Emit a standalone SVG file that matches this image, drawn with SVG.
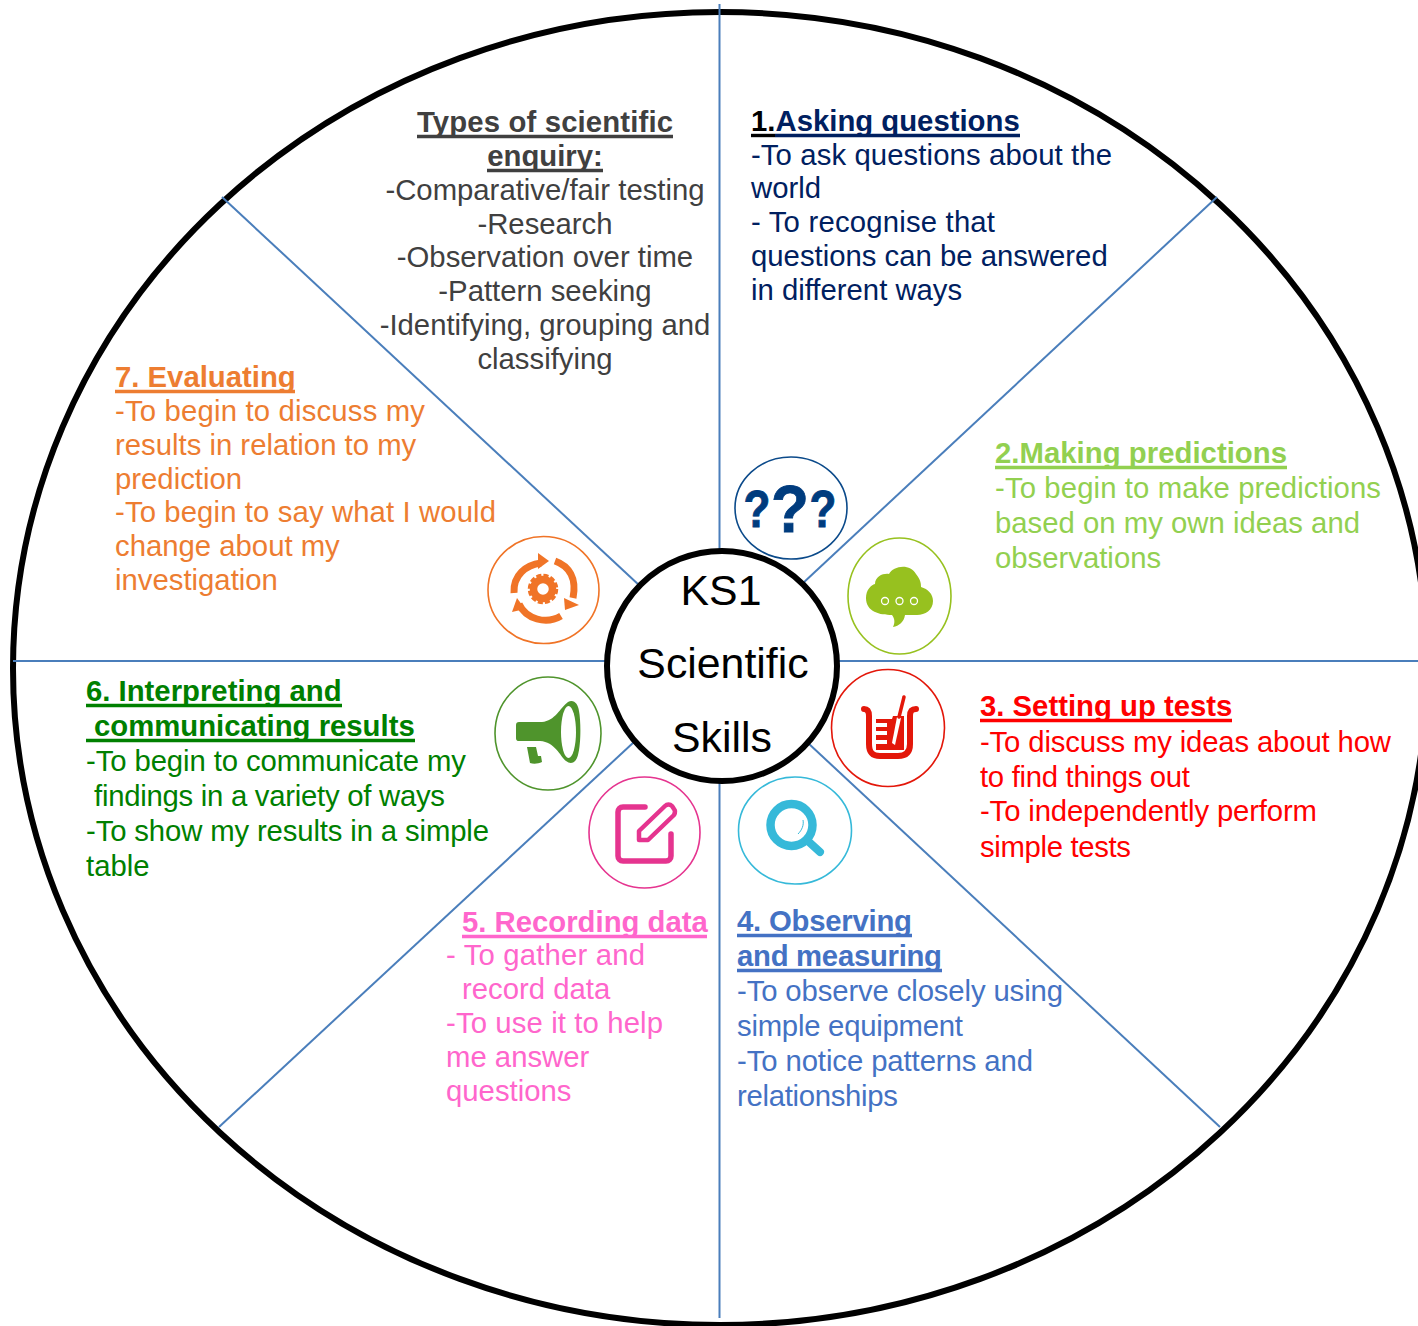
<svg xmlns="http://www.w3.org/2000/svg" width="1418" height="1326" viewBox="0 0 1418 1326">
<style>
text{font-family:"Liberation Sans",Arial,sans-serif;font-size:29.3px}
.h{font-weight:bold}
.c{text-anchor:middle}
.k{font-size:42.8px;fill:#000;text-anchor:middle}
.ring{fill:#fff;stroke-width:1.6}
.sp{stroke:#4a7ebb;stroke-width:2;fill:none}
.q{text-anchor:middle;font-weight:bold;fill:#003c7e;stroke:#003c7e;stroke-width:0.8}
.u{stroke-width:3.4;fill:none}
</style>
<rect width="1418" height="1326" fill="#fff"/>
<ellipse id="outer" cx="720" cy="668.500" rx="707" ry="656.500" fill="#fff" stroke="#000" stroke-width="6"/>
<g id="connectors">
<line class="sp" x1="719.500" y1="4" x2="719.500" y2="1318"/>
<line class="sp" x1="13" y1="661" x2="1418" y2="661"/>
<line class="sp" x1="222" y1="197" x2="640" y2="586"/>
<line class="sp" x1="1217" y1="197" x2="802" y2="584"/>
<line class="sp" x1="219" y1="1127" x2="634" y2="742"/>
<line class="sp" x1="1220" y1="1127" x2="808" y2="743"/>
</g>
<g id="center">
<circle cx="722" cy="666" r="115" fill="#fff" stroke="#000" stroke-width="6"/>
<text class="k" x="721" y="605">KS1</text>
<text class="k" x="723" y="678">Scientific</text>
<text class="k" x="722" y="752">Skills</text>
</g>
<g id="types" fill="#404040">
<text class="h c" x="545" y="132" textLength="256">Types of scientific</text>
<path class="u" stroke="#404040" d="M417 136.500H673M487 170.500H603"/>
<text class="h c" x="545" y="166">enquiry:</text>
<text class="c" x="545" y="200">-Comparative/fair testing</text>
<text class="c" x="545" y="234">-Research</text>
<text class="c" x="545" y="267">-Observation over time</text>
<text class="c" x="545" y="301">-Pattern seeking</text>
<text class="c" x="545" y="335">-Identifying, grouping and</text>
<text class="c" x="545" y="369">classifying</text>
</g>
<g id="node1" fill="#002060">
<text class="h" x="751" y="131" fill="#000">1.</text>
<text class="h" x="775.500" y="131">Asking questions</text>
<path class="u" stroke="#000" d="M751 135.500H775"/>
<path class="u" stroke="#002060" d="M775 135.500H1020"/>
<text x="751" y="165" textLength="361">-To ask questions about the</text>
<text x="751" y="198">world</text>
<text x="751" y="232" textLength="244">- To recognise that</text>
<text x="751" y="266">questions can be answered</text>
<text x="751" y="300">in different ways</text>
<g id="icon1">
<ellipse class="ring" cx="791" cy="508" rx="56" ry="51" stroke="#0b4a8a"/>
<text class="q" transform="translate(757 527) scale(1 1.18)" style="font-size:44px">?</text>
<text class="q" transform="translate(790 532) scale(1 1.08)" style="font-size:62px">?</text>
<text class="q" transform="translate(823 527) scale(1 1.18)" style="font-size:44px">?</text>
</g>
</g>
<g id="node2" fill="#92d050">
<text class="h" x="995" y="463" textLength="292">2.Making predictions</text>
<path class="u" stroke="#92d050" d="M995 467.500H1287"/>
<text x="995" y="498" textLength="386">-To begin to make predictions</text>
<text x="995" y="533" textLength="365">based on my own ideas and</text>
<text x="995" y="568">observations</text>
<g id="icon2">
<ellipse class="ring" cx="899.500" cy="596" rx="51.500" ry="58" stroke="#97c11f"/>
<path fill="#97c11f" d="M892 615C880 615 866 612 866 598C866 590 871 585 875 584C875 576 884 573 889 574C893 566 910 563 916 574C921 580 921 584 921 587C928 589 933 594 933 601C933 610 925 615 917 615L905 615C904 622 899 626 893 627C895 623 895 619 892 615Z"/>
<g fill="none" stroke="#fff" stroke-width="1.300"><circle cx="885" cy="601" r="3.500"/><circle cx="899.500" cy="601" r="3.500"/><circle cx="914" cy="601" r="3.500"/></g>
</g>
</g>
<g id="node3" fill="#ff0000">
<text class="h" x="980" y="716">3. Setting up tests</text>
<path class="u" stroke="#ff0000" d="M980 720.500H1232"/>
<text x="980" y="752" textLength="411">-To discuss my ideas about how</text>
<text x="980" y="787" textLength="210">to find things out</text>
<text x="980" y="821" textLength="337">-To independently perform</text>
<text x="980" y="857" textLength="151">simple tests</text>
<g id="icon3">
<ellipse class="ring" cx="888" cy="728" rx="56.500" ry="58.500" stroke="#e3170a"/>
<path fill="none" stroke="#e3170a" stroke-width="6" stroke-linecap="round" stroke-linejoin="round" d="M864 709C868 709 869 712 869 716V744C869 752 872 756 880 756H898C906 756 910 752 910 744V716C910 712 911 709 916 709"/>
<path fill="#e3170a" d="M876 719H892L893 716H904V750H876V744H887V740H876V735H887V731H876V727H887V723H876Z"/>
<path fill="#fff" d="M892 743L897 717L901 718L895 745Z"/>
<path fill="none" stroke="#e3170a" stroke-width="3.500" stroke-linecap="round" d="M899 717L904 697"/>
</g>
</g>
<g id="node4" fill="#4472c4">
<text class="h" x="737" y="931" textLength="175">4. Observing</text>
<text class="h" x="737" y="966" textLength="205">and measuring</text>
<path class="u" stroke="#4472c4" d="M737 935.500H912M737 970.500H942"/>
<text x="737" y="1001" textLength="326">-To observe closely using</text>
<text x="737" y="1036" textLength="226">simple equipment</text>
<text x="737" y="1071" textLength="296">-To notice patterns and</text>
<text x="737" y="1106" textLength="161">relationships</text>
<g id="icon4">
<ellipse class="ring" cx="795" cy="830.500" rx="56.500" ry="53.500" stroke="#36b9d9"/>
<circle cx="791.500" cy="825" r="21" fill="none" stroke="#36b9d9" stroke-width="8.500"/>
<path fill="none" stroke="#36b9d9" stroke-width="8" stroke-linecap="round" d="M809 842L820 852"/>
<path fill="none" stroke="#36b9d9" stroke-width="1" d="M803 820C804 825 802 830 798 834"/>
</g>
</g>
<g id="node5" fill="#ff66cc">
<text class="h" x="462" y="932">5. Recording data</text>
<path class="u" stroke="#ff66cc" d="M462 936.500H707"/>
<text x="446" y="965" textLength="199">- To gather and</text>
<text x="462" y="999">record data</text>
<text x="446" y="1033" textLength="217">-To use it to help</text>
<text x="446" y="1067">me answer</text>
<text x="446" y="1101">questions</text>
<g id="icon5">
<ellipse class="ring" cx="644.500" cy="832.500" rx="55.500" ry="55.500" stroke="#e5348f"/>
<path fill="none" stroke="#e5348f" stroke-width="5.500" stroke-linecap="round" stroke-linejoin="round" d="M645 807H623C620 807 618 809 618 812V856C618 859 620 861 623 861H666C669 861 671 859 671 856V834"/>
<path fill="none" stroke="#e5348f" stroke-width="4.500" stroke-linejoin="round" d="M639 831L665 806C667 804 670 804 672 806L674 809C676 811 675 813 674 815L648 840H639Z"/>
</g>
</g>
<g id="node6" fill="#008000">
<text class="h" x="86" y="701">6. Interpreting and</text>
<text class="h" x="94" y="736">communicating results</text>
<path class="u" stroke="#008000" d="M86 705.500H342M86 740.500H415"/>
<text x="86" y="771" textLength="380">-To begin to communicate my</text>
<text x="94" y="806" textLength="351">findings in a variety of ways</text>
<text x="86" y="841" textLength="403">-To show my results in a simple</text>
<text x="86" y="876">table</text>
<g id="icon6">
<ellipse class="ring" cx="548" cy="733.500" rx="53" ry="56.500" stroke="#4f942c"/>
<path fill="#4f942c" d="M519 722H542C555 721 560 708 568 702C574 699 578 704 579 711C581 722 581 744 578 755C576 763 571 765 566 761C560 756 555 742 540 741H519C516 741 516 739 516 737V725C516 723 517 722 519 722Z"/>
<ellipse cx="568.500" cy="732" rx="7.500" ry="26" fill="#fff"/>
<path fill="#4f942c" d="M527 747H536L538 756H541L542 762C538 764 533 764 530 763Z"/>
</g>
</g>
<g id="node7" fill="#ed7d31">
<text class="h" x="115" y="387">7. Evaluating</text>
<path class="u" stroke="#ed7d31" d="M115 391.500H295"/>
<text x="115" y="421" textLength="310">-To begin to discuss my</text>
<text x="115" y="455">results in relation to my</text>
<text x="115" y="489">prediction</text>
<text x="115" y="522" textLength="381">-To begin to say what I would</text>
<text x="115" y="556">change about my</text>
<text x="115" y="590">investigation</text>
<g id="icon7">
<ellipse class="ring" cx="543.500" cy="590" rx="55.500" ry="53.500" stroke="#f07427"/>
<g fill="none" stroke="#f07427" stroke-width="7">
<path d="M514 593C513 575 526 565 541 563"/>
<path d="M555 561C569 566 577 578 573 598"/>
<path d="M519 604C526 619 546 625 561 616"/>
</g>
<g fill="#f07427">
<path d="M538 553L549 561L538 569Z"/>
<path d="M564 598L579 605L565 610Z"/>
<path d="M517 598L512 612L525 609Z"/>
</g>
<circle cx="543" cy="589" r="9.500" fill="none" stroke="#f07427" stroke-width="7.500"/>
<circle cx="543" cy="589" r="13.500" fill="none" stroke="#f07427" stroke-width="3.500" stroke-dasharray="5 2.070"/>
</g>
</g>
</svg>
